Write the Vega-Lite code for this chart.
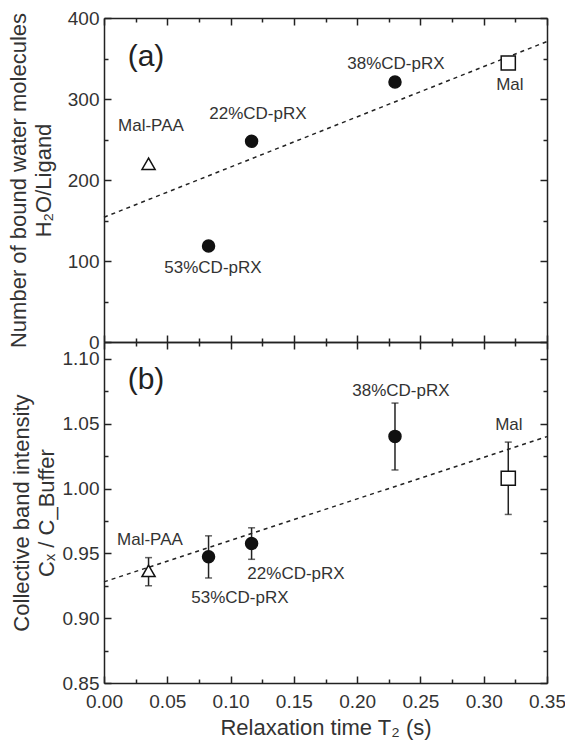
{
  "$schema": "https://vega.github.io/schema/vega-lite/v6.json",
  "background": "white",
  "padding": {"left": 7, "top": 9, "right": 2, "bottom": 5},
  "spacing": 0,
  "bounds": "flush",
  "datasets": {
    "pts": [
      {"sample": "53%CD-pRX", "kind": "pRX", "t": 0.0826, "n": 118.5, "c": 0.9473, "clo": 0.931, "chi": 0.9635},
      {"sample": "22%CD-pRX", "kind": "pRX", "t": 0.1166, "n": 247.8, "c": 0.9576, "clo": 0.9454, "chi": 0.9697},
      {"sample": "38%CD-pRX", "kind": "pRX", "t": 0.2299, "n": 321, "c": 1.0402, "clo": 1.0143, "chi": 1.0659},
      {"sample": "Mal-PAA", "kind": "PAA", "t": 0.0352, "n": 220, "c": 0.9365, "clo": 0.925, "chi": 0.9467},
      {"sample": "Mal", "kind": "Mal", "t": 0.3194, "n": 344.4, "c": 1.0079, "clo": 0.980, "chi": 1.0358}
    ],
    "fitA": [{"t": 0, "v": 154}, {"t": 0.35, "v": 371}],
    "fitB": [{"t": 0, "v": 0.928}, {"t": 0.35, "v": 1.040}],
    "labA": [
      {"label": "Mal-PAA", "t": 0.0371, "v": 266.7},
      {"label": "22%CD-pRX", "t": 0.1216, "v": 281.5},
      {"label": "53%CD-pRX", "t": 0.0861, "v": 91.4},
      {"label": "38%CD-pRX", "t": 0.2306, "v": 343.2},
      {"label": "Mal", "t": 0.3207, "v": 317.3}
    ],
    "labB": [
      {"label": "Mal-PAA", "t": 0.0363, "v": 0.9601},
      {"label": "53%CD-pRX", "t": 0.1074, "v": 0.9156},
      {"label": "22%CD-pRX", "t": 0.1517, "v": 0.9338},
      {"label": "38%CD-pRX", "t": 0.2346, "v": 1.075},
      {"label": "Mal", "t": 0.3199, "v": 1.0487}
    ],
    "tagA": [{"label": "(a)", "t": 0.0332, "v": 352}],
    "tagB": [{"label": "(b)", "t": 0.0332, "v": 1.0837}]
  },
  "vconcat": [
    {
      "width": 443,
      "height": 324,
      "layer": [
        {
          "data": {"name": "fitA"},
          "mark": {"type": "line", "color": "#222", "strokeWidth": 1.5, "strokeDash": [4, 4]},
          "encoding": {
            "x": {"field": "t", "type": "quantitative", "scale": {"domain": [0, 0.35], "nice": false, "zero": false},
              "axis": {"orient": "bottom", "labels": false, "title": null, "tickSize": -7,
                "values": [0, 0.05, 0.1, 0.15, 0.2, 0.25, 0.3, 0.35]}},
            "y": {"field": "v", "type": "quantitative", "scale": {"domain": [0, 400], "nice": false},
              "axis": {"orient": "left", "title": ["Number of bound water molecules", "H₂O/Ligand"],
                "values": [0, 100, 200, 300, 400], "tickSize": -7, "labelPadding": 12, "titlePadding": 12}}
          }
        },
        {
          "data": {"name": "pts"},
          "mark": {"type": "point", "filled": true, "stroke": "#111", "strokeWidth": 1.5, "opacity": 1},
          "encoding": {
            "x": {"field": "t", "type": "quantitative", "scale": {"domain": [0, 0.35], "nice": false, "zero": false},
              "axis": {"orient": "top", "labels": false, "title": null, "tickSize": -7,
                "values": [0, 0.05, 0.1, 0.15, 0.2, 0.25, 0.3, 0.35]}},
            "y": {"field": "n", "type": "quantitative", "scale": {"domain": [0, 400], "nice": false},
              "axis": {"orient": "right", "labels": false, "title": null, "tickSize": -7,
                "values": [0, 100, 200, 300, 400]}},
            "shape": {"field": "kind", "type": "nominal", "scale": {"domain": ["pRX", "PAA", "Mal"], "range": ["circle", "triangle-up", "square"]}, "legend": null},
            "fill": {"field": "kind", "type": "nominal", "scale": {"domain": ["pRX", "PAA", "Mal"], "range": ["#111", "white", "white"]}, "legend": null},
            "size": {"field": "kind", "type": "nominal", "scale": {"domain": ["pRX", "PAA", "Mal"], "range": [144, 200, 150]}, "legend": null}
          }
        },
        {
          "data": {"name": "labA"},
          "mark": {"type": "text", "font": "Liberation Sans", "fontSize": 17, "color": "#333", "baseline": "middle", "align": "center"},
          "encoding": {
            "x": {"field": "t", "type": "quantitative", "scale": {"domain": [0, 0.35], "nice": false, "zero": false},
              "axis": {"orient": "bottom", "labels": false, "title": null, "domain": false, "tickSize": -4,
                "values": [0.025, 0.075, 0.125, 0.175, 0.225, 0.275, 0.325]}},
            "y": {"field": "v", "type": "quantitative", "scale": {"domain": [0, 400], "nice": false},
              "axis": {"orient": "left", "labels": false, "title": null, "domain": false, "tickSize": -4,
                "values": [50, 150, 250, 350]}},
            "text": {"field": "label"}
          }
        },
        {
          "data": {"name": "tagA"},
          "mark": {"type": "text", "font": "Liberation Sans", "fontSize": 30, "color": "#222", "baseline": "middle", "align": "center"},
          "encoding": {
            "x": {"field": "t", "type": "quantitative", "scale": {"domain": [0, 0.35], "nice": false, "zero": false},
              "axis": {"orient": "top", "labels": false, "title": null, "domain": false, "tickSize": -4,
                "values": [0.025, 0.075, 0.125, 0.175, 0.225, 0.275, 0.325]}},
            "y": {"field": "v", "type": "quantitative", "scale": {"domain": [0, 400], "nice": false},
              "axis": {"orient": "right", "labels": false, "title": null, "domain": false, "tickSize": -4,
                "values": [50, 150, 250, 350]}},
            "text": {"field": "label"}
          }
        }
      ],
      "resolve": {"axis": {"x": "independent", "y": "independent"}}
    },
    {
      "width": 443,
      "height": 341,
      "layer": [
        {
          "data": {"name": "fitB"},
          "mark": {"type": "line", "color": "#222", "strokeWidth": 1.5, "strokeDash": [4, 4]},
          "encoding": {
            "x": {"field": "t", "type": "quantitative", "scale": {"domain": [0, 0.35], "nice": false, "zero": false},
              "axis": {"orient": "bottom", "title": "Relaxation time T₂ (s)", "format": ".2f", "tickSize": -7,
                "labelPadding": 16, "titlePadding": 6,
                "values": [0, 0.05, 0.1, 0.15, 0.2, 0.25, 0.3, 0.35]}},
            "y": {"field": "v", "type": "quantitative", "scale": {"domain": [0.85, 1.113], "nice": false, "zero": false},
              "axis": {"orient": "left", "title": ["Collective band intensity", "Cₓ / C_Buffer"], "format": ".2f",
                "tickSize": -7, "labelPadding": 12, "titlePadding": 4,
                "values": [0.85, 0.9, 0.95, 1.0, 1.05, 1.1]}}
          }
        },
        {
          "data": {"name": "pts"},
          "mark": {"type": "errorbar", "ticks": {"size": 7, "thickness": 1.5, "color": "#222"}, "rule": {"strokeWidth": 1.5, "color": "#222"}},
          "encoding": {
            "x": {"field": "t", "type": "quantitative", "scale": {"domain": [0, 0.35], "nice": false, "zero": false}, "axis": null},
            "y": {"field": "clo", "type": "quantitative", "scale": {"domain": [0.85, 1.113], "nice": false, "zero": false}, "axis": null},
            "y2": {"field": "chi"}
          }
        },
        {
          "data": {"name": "pts"},
          "mark": {"type": "point", "filled": true, "stroke": "#111", "strokeWidth": 1.5, "opacity": 1},
          "encoding": {
            "x": {"field": "t", "type": "quantitative", "scale": {"domain": [0, 0.35], "nice": false, "zero": false},
              "axis": {"orient": "top", "labels": false, "title": null, "tickSize": -7,
                "values": [0, 0.05, 0.1, 0.15, 0.2, 0.25, 0.3, 0.35]}},
            "y": {"field": "c", "type": "quantitative", "scale": {"domain": [0.85, 1.113], "nice": false, "zero": false},
              "axis": {"orient": "right", "labels": false, "title": null, "tickSize": -7,
                "values": [0.85, 0.9, 0.95, 1.0, 1.05, 1.1]}},
            "shape": {"field": "kind", "type": "nominal", "scale": {"domain": ["pRX", "PAA", "Mal"], "range": ["circle", "triangle-up", "square"]}, "legend": null},
            "fill": {"field": "kind", "type": "nominal", "scale": {"domain": ["pRX", "PAA", "Mal"], "range": ["#111", "white", "white"]}, "legend": null},
            "size": {"field": "kind", "type": "nominal", "scale": {"domain": ["pRX", "PAA", "Mal"], "range": [144, 200, 150]}, "legend": null}
          }
        },
        {
          "data": {"name": "labB"},
          "mark": {"type": "text", "font": "Liberation Sans", "fontSize": 17, "color": "#333", "baseline": "middle", "align": "center"},
          "encoding": {
            "x": {"field": "t", "type": "quantitative", "scale": {"domain": [0, 0.35], "nice": false, "zero": false},
              "axis": {"orient": "bottom", "labels": false, "title": null, "domain": false, "tickSize": -4,
                "values": [0.025, 0.075, 0.125, 0.175, 0.225, 0.275, 0.325]}},
            "y": {"field": "v", "type": "quantitative", "scale": {"domain": [0.85, 1.113], "nice": false, "zero": false},
              "axis": {"orient": "left", "labels": false, "title": null, "domain": false, "tickSize": -4,
                "values": [0.875, 0.925, 0.975, 1.025, 1.075]}},
            "text": {"field": "label"}
          }
        },
        {
          "data": {"name": "tagB"},
          "mark": {"type": "text", "font": "Liberation Sans", "fontSize": 30, "color": "#222", "baseline": "middle", "align": "center"},
          "encoding": {
            "x": {"field": "t", "type": "quantitative", "scale": {"domain": [0, 0.35], "nice": false, "zero": false},
              "axis": {"orient": "top", "labels": false, "title": null, "domain": false, "tickSize": -4,
                "values": [0.025, 0.075, 0.125, 0.175, 0.225, 0.275, 0.325]}},
            "y": {"field": "v", "type": "quantitative", "scale": {"domain": [0.85, 1.113], "nice": false, "zero": false},
              "axis": {"orient": "right", "labels": false, "title": null, "domain": false, "tickSize": -4,
                "values": [0.875, 0.925, 0.975, 1.025, 1.075]}},
            "text": {"field": "label"}
          }
        }
      ],
      "resolve": {"axis": {"x": "independent", "y": "independent"}}
    }
  ],
  "config": {
    "view": {"stroke": null},
    "font": "Liberation Sans",
    "axis": {
      "grid": false,
      "domainColor": "#222",
      "domainWidth": 1.5,
      "tickColor": "#222",
      "tickWidth": 1.5,
      "labelFont": "Liberation Sans",
      "labelFontSize": 19,
      "labelColor": "#333",
      "labelOverlap": false,
      "labelFlush": false,
      "labelBound": false,
      "titleFont": "Liberation Sans",
      "titleFontSize": 22,
      "titleFontWeight": "normal",
      "titleColor": "#333",
      "titleLineHeight": 25
    }
  }
}
